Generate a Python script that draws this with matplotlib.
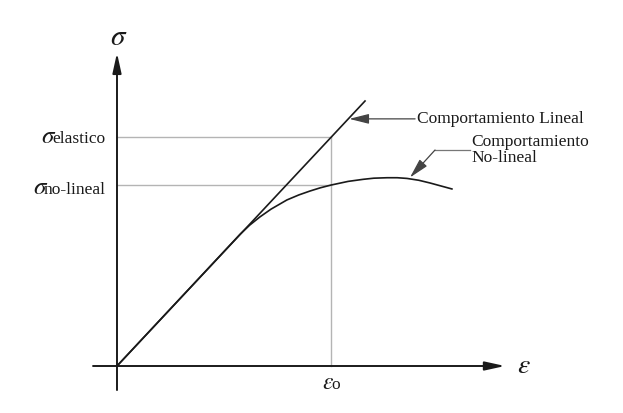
import matplotlib
matplotlib.use("Agg")
import matplotlib.pyplot as plt
from matplotlib.offsetbox import TextArea, HPacker, AnnotationBbox

plt.rcParams['font.family'] = ['Liberation Serif', 'DejaVu Serif']
plt.rcParams['mathtext.fontset'] = 'stix'

# ---- data (normalised units: eps0 = 1, sigma_elastic = 1) ----
eps_linear = [0.0, 1.159]
sig_linear = [0.0, 1.157]

eps_nonlinear = [0.0, 0.30, 0.50, 0.575, 0.62, 0.668, 0.72, 0.794, 0.85, 0.902, 0.95,
                 1.000, 1.08, 1.150, 1.20, 1.262, 1.31, 1.355, 1.41, 1.463, 1.51, 1.565]
sig_nonlinear = [0.0, 0.30, 0.50, 0.575, 0.615, 0.651, 0.685, 0.725, 0.747, 0.764, 0.778,
                 0.790, 0.806, 0.815, 0.820, 0.822, 0.822, 0.819, 0.811, 0.799, 0.787, 0.773]

eps0 = 1.0
sig_elastic = 1.0
sig_nl = 0.79

label_sig_sym = r"$\sigma$"
label_sig_el = "elastico"
label_sig_nl = "no-lineal"
label_eps_sym = r"$\varepsilon$"
label_eps0_sub = "o"
label_lin = "Comportamiento Lineal"
label_nonlin = "Comportamiento\nNo-lineal"

# ---- figure ----
fig = plt.figure(figsize=(6.23, 4.13), dpi=100)
ax = fig.add_axes([0, 0, 1, 1])
ax.set_xlim(-0.5467, 2.3645)
ax.set_ylim(-0.2052, 1.598)
ax.axis('off')

ink = '#1a1a1a'
grey = '#b4b4b4'

# axes with arrows
ax.annotate('', xy=(1.813, 0), xytext=(-0.112, 0),
            arrowprops=dict(arrowstyle='-|>,head_length=1.0,head_width=0.22',
                            color=ink, lw=1.4, shrinkA=0, shrinkB=0, mutation_scale=12))
ax.annotate('', xy=(0, 1.367), xytext=(0, -0.105),
            arrowprops=dict(arrowstyle='-|>,head_length=1.0,head_width=0.22',
                            color=ink, lw=1.4, shrinkA=0, shrinkB=0, mutation_scale=12))

# guide lines
ax.plot([0, eps0], [sig_elastic, sig_elastic], color=grey, lw=1.0)
ax.plot([0, eps0], [sig_nl, sig_nl], color=grey, lw=1.0)
ax.plot([eps0, eps0], [0, sig_elastic], color=grey, lw=1.0)

# curves
ax.plot(eps_linear, sig_linear, color=ink, lw=1.2)
ax.plot(eps_nonlinear, sig_nonlinear, color=ink, lw=1.2)

# axis labels
ax.text(0.01, 1.43, label_sig_sym, fontsize=21, ha='center', va='center', color=ink)
ax.text(1.90, 0.0, label_eps_sym, fontsize=20, ha='center', va='center', color=ink)


def mixed_label(parts, xy, align, sep):
    boxes = [TextArea(t, textprops=dict(fontsize=s, color=ink)) for t, s in parts]
    pack = HPacker(children=boxes, align='baseline', pad=0, sep=sep)
    ab = AnnotationBbox(pack, xy, xycoords='data', box_alignment=align,
                        frameon=False, pad=0)
    ax.add_artist(ab)


mixed_label([(label_sig_sym, 18), (label_sig_el, 12.5)], (-0.053, sig_elastic), (1, 0.5), -3.0)
mixed_label([(label_sig_sym, 18), (label_sig_nl, 12.5)], (-0.053, sig_nl - 0.012), (1, 0.5), -3.0)
mixed_label([(label_eps_sym, 17), (label_eps0_sub, 12.5)], (eps0, -0.075), (0.5, 0.5), -2)

# annotations
ax.annotate('', xy=(1.085, 1.079), xytext=(1.393, 1.079),
            arrowprops=dict(arrowstyle='-|>,head_length=1.0,head_width=0.25',
                            color='#444444', lw=0.9, shrinkA=0, shrinkB=0, mutation_scale=12))
ax.text(1.402, 1.079, label_lin, fontsize=12.5, ha='left', va='center', color=ink)

ax.plot([1.650, 1.486], [0.943, 0.943], color='#777777', lw=0.9)
ax.annotate('', xy=(1.369, 0.823), xytext=(1.486, 0.943),
            arrowprops=dict(arrowstyle='-|>,head_length=1.0,head_width=0.25',
                            color='#444444', lw=0.9, shrinkA=0, shrinkB=0, mutation_scale=12))
ax.text(1.655, 0.943, label_nonlin, fontsize=12.5, ha='left', va='center',
        color=ink, linespacing=1.0)

fig.savefig('out.png', dpi=100)
